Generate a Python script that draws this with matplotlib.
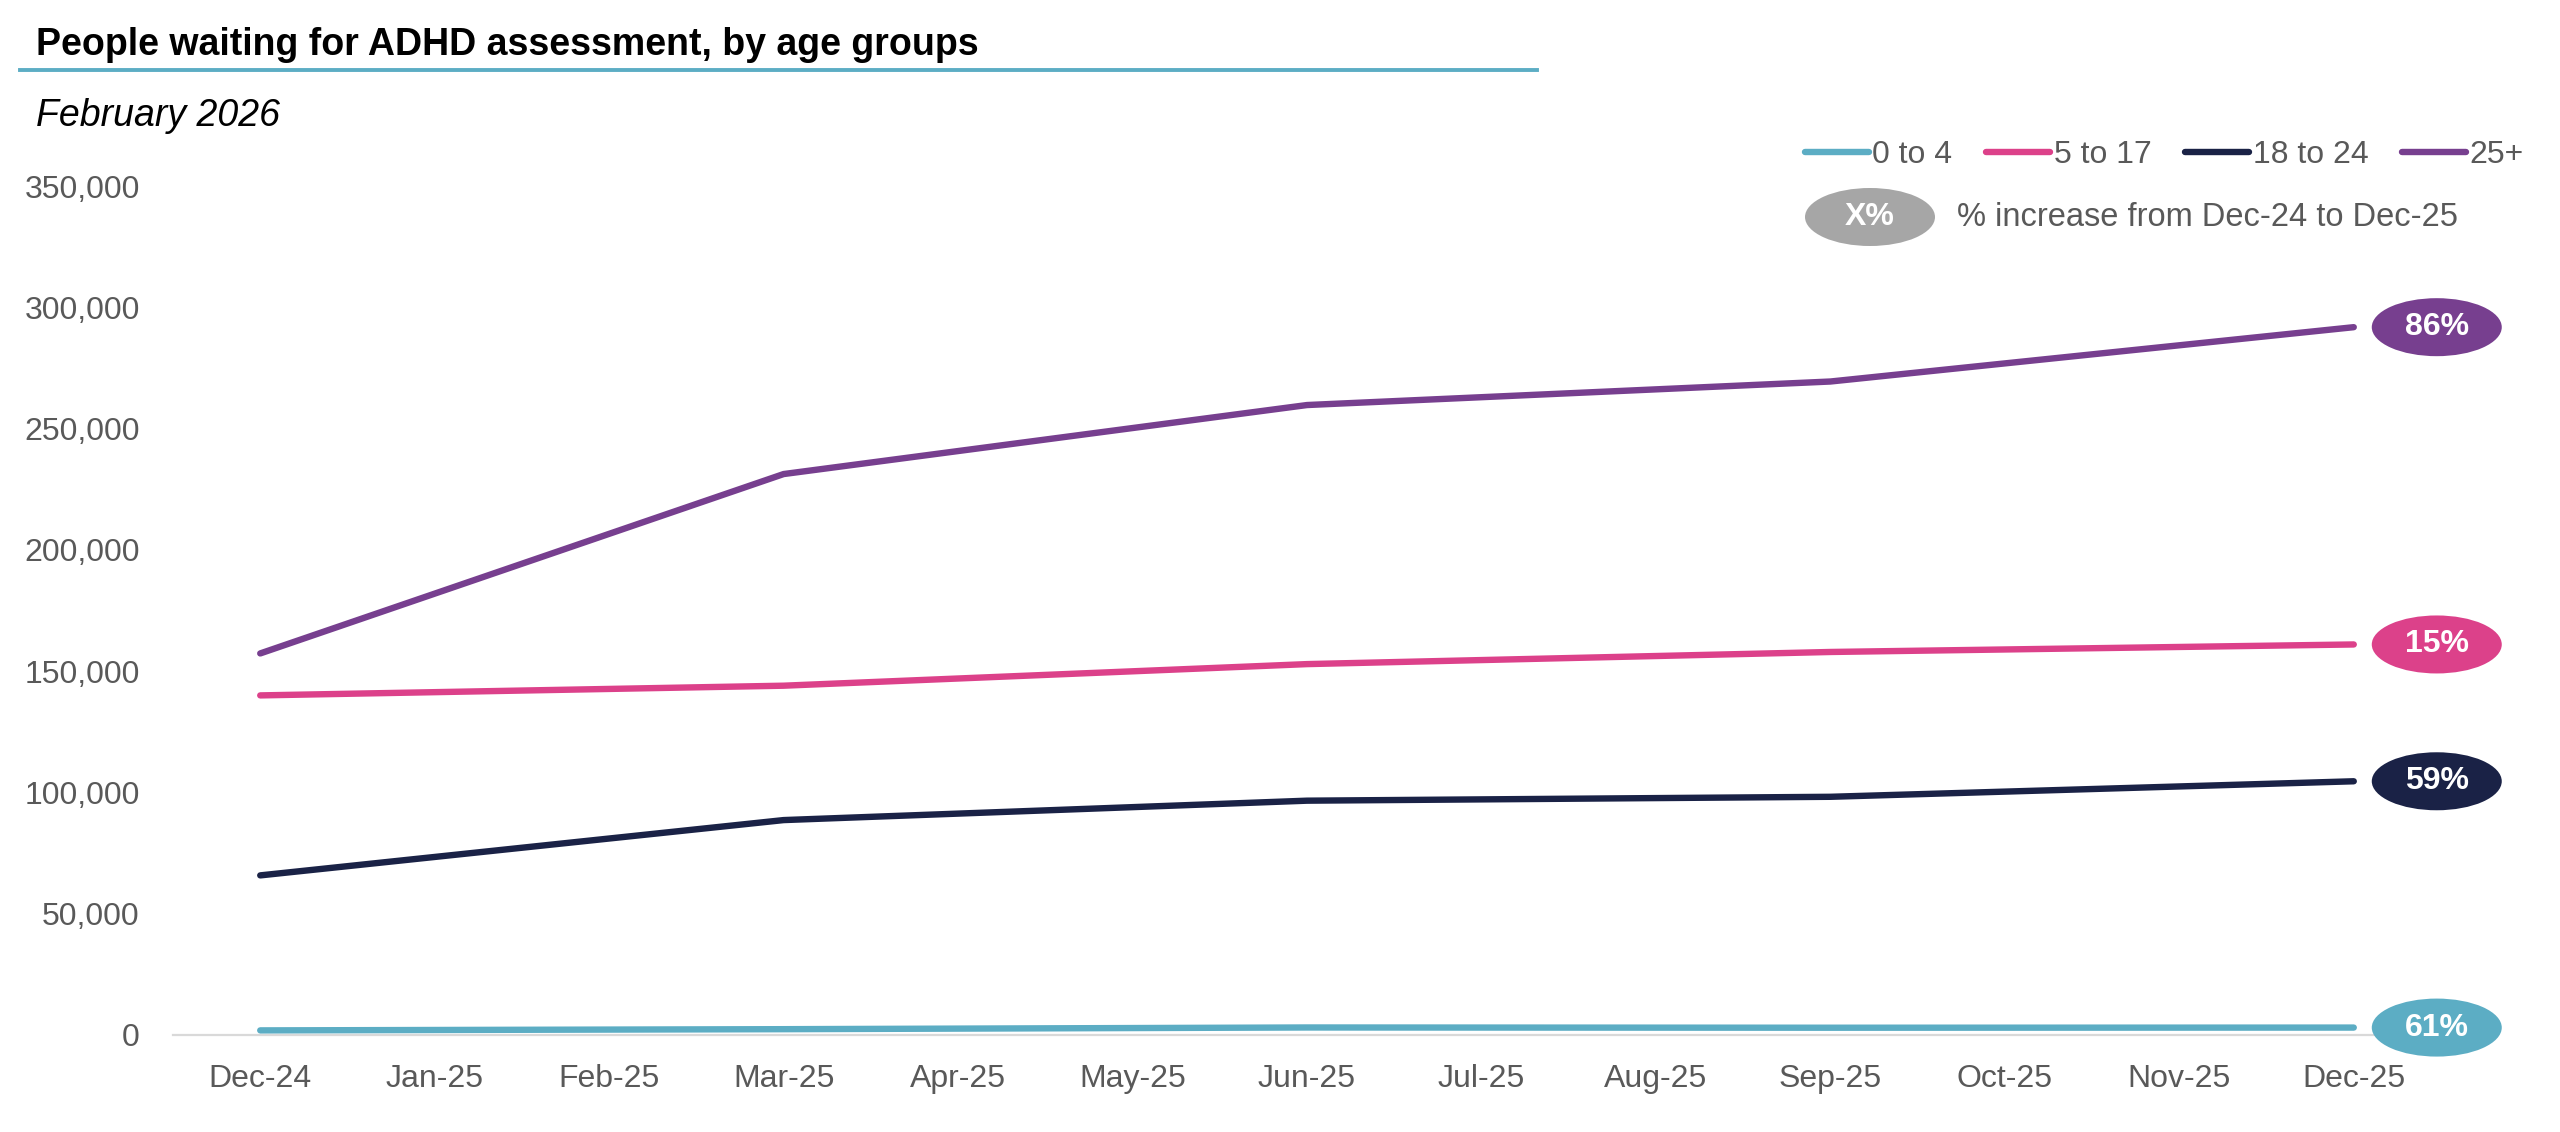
import matplotlib
matplotlib.use("Agg")
import matplotlib.pyplot as plt
from matplotlib.patches import Ellipse
from matplotlib.lines import Line2D

plt.rcParams['font.family'] = ['Liberation Sans', 'DejaVu Sans']

# ---- data ----
months = ['Dec-24', 'Jan-25', 'Feb-25', 'Mar-25', 'Apr-25', 'May-25', 'Jun-25',
          'Jul-25', 'Aug-25', 'Sep-25', 'Oct-25', 'Nov-25', 'Dec-25']
data_months = ['Dec-24', 'Mar-25', 'Jun-25', 'Sep-25', 'Dec-25']
series_names = ['0 to 4', '5 to 17', '18 to 24', '25+']
age_0_4 = [1900, 2400, 3100, 3000, 3060]
age_5_17 = [140000, 144000, 152900, 157900, 161000]
age_18_24 = [65800, 88600, 96600, 98200, 104600]
age_25_plus = [157300, 231250, 259700, 269400, 291800]
pct_labels = ['61%', '15%', '59%', '86%']
y_ticks = [0, 50000, 100000, 150000, 200000, 250000, 300000, 350000]

colors = ['#5CADC4', '#DC418A', '#1A2246', '#773F8F']
tick_color = '#595959'

W, H = 2560, 1132
fig = plt.figure(figsize=(W / 100, H / 100), dpi=100)
ax = fig.add_axes([173 / W, 1 - 1035 / H, (2441 - 173) / W, (1035 - 186) / H])

xpos = [months.index(m) for m in data_months]
all_series = [age_0_4, age_5_17, age_18_24, age_25_plus]
for vals, col, name in zip(all_series, colors, series_names):
    ax.plot(xpos, vals, color=col, lw=4.6, solid_capstyle='round',
            solid_joinstyle='round', label=name, zorder=3)

ax.set_xlim(-0.5, len(months) - 0.5)
ax.set_ylim(0, 350000)
ax.set_xticks(range(len(months)))
ax.set_xticklabels(months)
ax.set_yticks(y_ticks)
ax.set_yticklabels([f'{v:,}' for v in y_ticks])
ax.tick_params(axis='x', length=0, pad=21, labelsize=23, labelcolor=tick_color)
ax.tick_params(axis='y', length=0, pad=24, labelsize=23, labelcolor=tick_color)
for s in ['top', 'right', 'left']:
    ax.spines[s].set_visible(False)
ax.spines['bottom'].set_color('#D9D9D9')
ax.spines['bottom'].set_linewidth(1.6)
ax.spines['bottom'].set_zorder(1)

# end-of-line ellipse labels
px_x = (2441 - 173) / len(months)          # pixels per category
px_y = (1035 - 186) / 350000               # pixels per unit
ell_w = 130 / px_x
ell_h = 58 / px_y
x_end = xpos[-1] + 83 / px_x
for vals, col, lab in zip(all_series, colors, pct_labels):
    e = Ellipse((x_end, vals[-1]), ell_w, ell_h, facecolor=col, edgecolor='none',
                clip_on=False, zorder=5)
    ax.add_patch(e)
    ax.text(x_end, vals[-1], lab, ha='center', va='center', color='white',
            fontsize=23, fontweight='bold', zorder=6, clip_on=False)

# legend
leg = fig.legend(loc='center right', bbox_to_anchor=(2524 / W, 1 - 155 / H),
                 ncol=4, frameon=False, fontsize=23, handlelength=2.0,
                 handletextpad=0.12, columnspacing=1.05, borderpad=0,
                 borderaxespad=0)
for t in leg.get_texts():
    t.set_color(tick_color)
for h in leg.get_lines():
    h.set_solid_capstyle('round')
    h.set_linewidth(4.6)

# second legend row: grey ellipse explanation
fig.patches.append(Ellipse((1870 / 100, (H - 217) / 100), 1.30, 0.58,
                           transform=fig.dpi_scale_trans, facecolor='#A6A6A6',
                           edgecolor='none'))
fig.text(1870 / W, 1 - 217 / H, 'X%', ha='center', va='center', color='white',
         fontsize=23, fontweight='bold')
fig.text(1957 / W, 1 - 217 / H, '% increase from Dec-24 to Dec-25', ha='left',
         va='center', color=tick_color, fontsize=23.5)

# title, underline, subtitle
fig.text(36 / W, 1 - 45 / H, 'People waiting for ADHD assessment, by age groups',
         ha='left', va='center', fontsize=27, fontweight='bold', color='black')
fig.add_artist(Line2D([20 / W, 1537 / W], [1 - 70 / H, 1 - 70 / H],
                      color='#5CADC4', lw=2.8, transform=fig.transFigure))
fig.text(36 / W, 1 - 116 / H, 'February 2026', ha='left', va='center',
         fontsize=27, fontstyle='italic', color='black')

fig.savefig('out.png', dpi=100, facecolor='white')
